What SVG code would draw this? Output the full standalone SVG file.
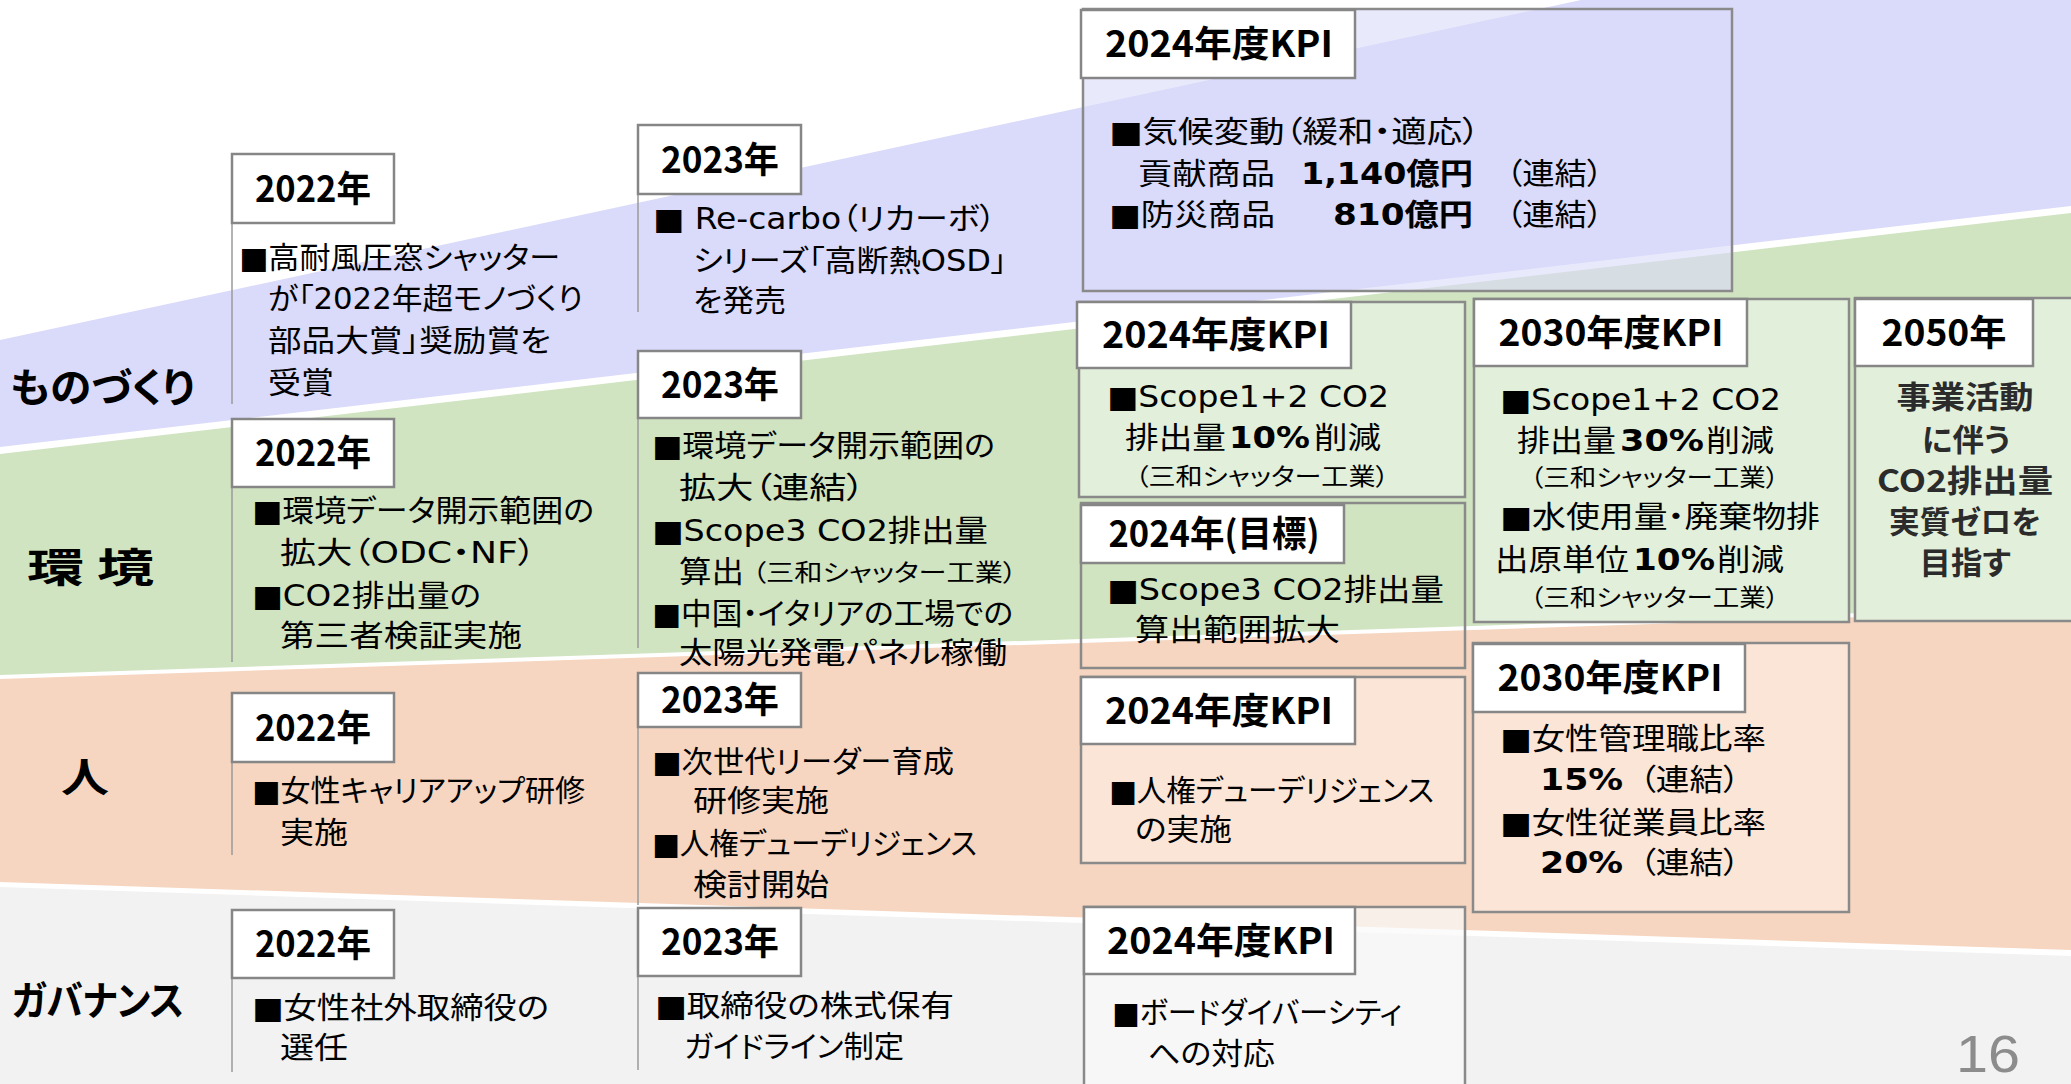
<svg xmlns="http://www.w3.org/2000/svg" width="2071" height="1084" viewBox="0 0 2071 1084">
<style>
.t{font-family:"DejaVu Sans","Noto Sans CJK JP",sans-serif;font-size:30px;fill:#000;font-feature-settings:"palt" 1}
.s{font-size:24px}
.b{font-weight:700}
.lb{font-family:"Noto Sans CJK JP",sans-serif;font-weight:700;font-size:36px;fill:#000;text-anchor:middle}
.cat{font-family:"Noto Sans CJK JP",sans-serif;font-weight:700;font-size:40px;fill:#000;font-feature-settings:"palt" 1}
.e{font-family:"Noto Sans CJK JP",sans-serif;font-weight:700;font-size:31px;fill:#2b2b2b;text-anchor:middle;font-feature-settings:"palt" 1}
.lbox{fill:#fff;stroke:#868686;stroke-width:2.5}
.obox{stroke:#8a8a8a;stroke-width:2.5}
.vl{stroke:#9a9a9a;stroke-width:1.5;fill:none}
</style>
<rect width="2071" height="1084" fill="#fff"/>
<g id="bands">
<polygon points="0,340 1581,0 2071,0 2071,206 0,447" fill="#dadafa"/>
<polygon points="0,454 2071,213 2071,606 0,675" fill="#d0e4c1"/>
<polygon points="0,679 2071,610 2071,950 0,882" fill="#f6d6c0"/>
<polygon points="0,887 2071,956 2071,1084 0,1084" fill="#f2f2f2"/>
</g>
<g id="categories">
<text class="cat" x="10" y="402" textLength="185" lengthAdjust="spacingAndGlyphs">ものづくり</text>
<text class="cat" x="27" y="582" textLength="127" lengthAdjust="spacingAndGlyphs">環 境</text>
<text class="cat" x="61" y="792" textLength="48" lengthAdjust="spacingAndGlyphs">人</text>
<text class="cat" x="12" y="1015" textLength="172" lengthAdjust="spacingAndGlyphs">ガバナンス</text>
</g>
<g id="connectors">
<line class="vl" x1="232" y1="223" x2="232" y2="404"/>
<line class="vl" x1="232" y1="487" x2="232" y2="662"/>
<line class="vl" x1="232" y1="762" x2="232" y2="855"/>
<line class="vl" x1="232" y1="978" x2="232" y2="1072"/>
<line class="vl" x1="638" y1="194" x2="638" y2="312"/>
<line class="vl" x1="638" y1="418" x2="638" y2="648"/>
<line class="vl" x1="638" y1="727" x2="638" y2="905"/>
<line class="vl" x1="638" y1="976" x2="638" y2="1070"/>
</g>
<g id="n2022-mono">
<rect class="lbox" x="232" y="154" width="162" height="69"/>
<text class="lb" x="313" y="202" textLength="116" lengthAdjust="spacingAndGlyphs">2022年</text>
<text class="t" x="239" y="268" textLength="321" lengthAdjust="spacingAndGlyphs">■高耐風圧窓シャッター</text>
<text class="t" x="268" y="309" textLength="315" lengthAdjust="spacingAndGlyphs">が「2022年超モノづくり</text>
<text class="t" x="268" y="351" textLength="283" lengthAdjust="spacingAndGlyphs">部品大賞」奨励賞を</text>
<text class="t" x="268" y="393" textLength="66" lengthAdjust="spacingAndGlyphs">受賞</text>
</g>
<g id="n2022-env">
<rect class="lbox" x="232" y="419" width="162" height="68"/>
<text class="lb" x="313" y="466" textLength="116" lengthAdjust="spacingAndGlyphs">2022年</text>
<text class="t" x="252" y="521" textLength="342" lengthAdjust="spacingAndGlyphs">■環境データ開示範囲の</text>
<text class="t" x="280" y="563" textLength="256" lengthAdjust="spacingAndGlyphs">拡大（ODC・NF）</text>
<text class="t" x="252" y="606" textLength="229" lengthAdjust="spacingAndGlyphs">■CO2排出量の</text>
<text class="t" x="280" y="646" textLength="242" lengthAdjust="spacingAndGlyphs">第三者検証実施</text>
</g>
<g id="n2022-hito">
<rect class="lbox" x="232" y="693" width="162" height="69"/>
<text class="lb" x="313" y="741" textLength="116" lengthAdjust="spacingAndGlyphs">2022年</text>
<text class="t" x="252" y="801" textLength="333" lengthAdjust="spacingAndGlyphs">■女性キャリアアップ研修</text>
<text class="t" x="280" y="843" textLength="68" lengthAdjust="spacingAndGlyphs">実施</text>
</g>
<g id="n2022-gov">
<rect class="lbox" x="232" y="910" width="162" height="68"/>
<text class="lb" x="313" y="957" textLength="116" lengthAdjust="spacingAndGlyphs">2022年</text>
<text class="t" x="252" y="1018" textLength="297" lengthAdjust="spacingAndGlyphs">■女性社外取締役の</text>
<text class="t" x="280" y="1058" textLength="68" lengthAdjust="spacingAndGlyphs">選任</text>
</g>
<g id="n2023-mono">
<rect class="lbox" x="638" y="125" width="163" height="69"/>
<text class="lb" x="720" y="173" textLength="118" lengthAdjust="spacingAndGlyphs">2023年</text>
<text class="t" x="653" y="229" textLength="343" lengthAdjust="spacingAndGlyphs">■ Re-carbo（リカーボ）</text>
<text class="t" x="693" y="271" textLength="314" lengthAdjust="spacingAndGlyphs">シリーズ「高断熱OSD」</text>
<text class="t" x="693" y="311" textLength="93" lengthAdjust="spacingAndGlyphs">を発売</text>
</g>
<g id="n2023-env">
<rect class="lbox" x="638" y="351" width="163" height="67"/>
<text class="lb" x="720" y="398" textLength="118" lengthAdjust="spacingAndGlyphs">2023年</text>
<text class="t" x="652" y="456" textLength="343" lengthAdjust="spacingAndGlyphs">■環境データ開示範囲の</text>
<text class="t" x="679" y="498" textLength="186" lengthAdjust="spacingAndGlyphs">拡大（連結）</text>
<text class="t" x="652" y="541" textLength="336" lengthAdjust="spacingAndGlyphs">■Scope3 CO2排出量</text>
<text class="t" x="679" y="582" textLength="65" lengthAdjust="spacingAndGlyphs">算出</text>
<text class="t s" x="752" y="581" textLength="265" lengthAdjust="spacingAndGlyphs">（三和シャッター工業）</text>
<text class="t" x="652" y="624" textLength="361" lengthAdjust="spacingAndGlyphs">■中国・イタリアの工場での</text>
<text class="t" x="679" y="663" textLength="328" lengthAdjust="spacingAndGlyphs">太陽光発電パネル稼働</text>
</g>
<g id="n2023-hito">
<rect class="lbox" x="638" y="673" width="163" height="54"/>
<text class="lb" x="720" y="713" textLength="118" lengthAdjust="spacingAndGlyphs">2023年</text>
<text class="t" x="652" y="772" textLength="302" lengthAdjust="spacingAndGlyphs">■次世代リーダー育成</text>
<text class="t" x="693" y="811" textLength="136" lengthAdjust="spacingAndGlyphs">研修実施</text>
<text class="t" x="652" y="854" textLength="325" lengthAdjust="spacingAndGlyphs">■人権デューデリジェンス</text>
<text class="t" x="693" y="895" textLength="136" lengthAdjust="spacingAndGlyphs">検討開始</text>
</g>
<g id="n2023-gov">
<rect class="lbox" x="638" y="908" width="163" height="68"/>
<text class="lb" x="720" y="955" textLength="118" lengthAdjust="spacingAndGlyphs">2023年</text>
<text class="t" x="655" y="1016" textLength="299" lengthAdjust="spacingAndGlyphs">■取締役の株式保有</text>
<text class="t" x="684" y="1057" textLength="220" lengthAdjust="spacingAndGlyphs">ガイドライン制定</text>
</g>
<g id="n2024-mono">
<rect class="obox" x="1083" y="9" width="649" height="282" fill="#dadafa" fill-opacity="0.6"/>
<rect class="lbox" x="1081" y="10" width="274" height="68"/>
<text class="lb" x="1219" y="57" textLength="228" lengthAdjust="spacingAndGlyphs">2024年度KPI</text>
<text class="t" x="1109" y="142" textLength="371" lengthAdjust="spacingAndGlyphs">■気候変動（緩和・適応）</text>
<text class="t" x="1138" y="184" textLength="137" lengthAdjust="spacingAndGlyphs">貢献商品</text>
<text class="t b" x="1301" y="184" textLength="172" lengthAdjust="spacingAndGlyphs">1,140億円</text>
<text class="t" x="1506" y="184" textLength="97" lengthAdjust="spacingAndGlyphs">（連結）</text>
<text class="t" x="1109" y="225" textLength="166" lengthAdjust="spacingAndGlyphs">■防災商品</text>
<text class="t b" x="1333" y="225" textLength="140" lengthAdjust="spacingAndGlyphs">810億円</text>
<text class="t" x="1506" y="225" textLength="97" lengthAdjust="spacingAndGlyphs">（連結）</text>
</g>
<g id="n2024-env">
<rect class="obox" x="1079" y="302" width="386" height="195" fill="#e2efda"/>
<rect class="lbox" x="1077" y="302" width="274" height="66"/>
<text class="lb" x="1216" y="348" textLength="228" lengthAdjust="spacingAndGlyphs">2024年度KPI</text>
<text class="t" x="1107" y="407" textLength="282" lengthAdjust="spacingAndGlyphs">■Scope1+2 CO2</text>
<text class="t" x="1125" y="448" textLength="101" lengthAdjust="spacingAndGlyphs">排出量</text>
<text class="t b" x="1229" y="448" textLength="81" lengthAdjust="spacingAndGlyphs">10%</text>
<text class="t" x="1314" y="448" textLength="67" lengthAdjust="spacingAndGlyphs">削減</text>
<text class="t s" x="1135" y="485" textLength="254" lengthAdjust="spacingAndGlyphs">（三和シャッター工業）</text>
</g>
<g id="n2024-target">
<rect class="obox" x="1081" y="503" width="384" height="165" fill="none"/>
<rect class="lbox" x="1081" y="505" width="263" height="58"/>
<text class="lb" x="1214" y="547" textLength="211" lengthAdjust="spacingAndGlyphs">2024年(目標)</text>
<text class="t" x="1107" y="600" textLength="337" lengthAdjust="spacingAndGlyphs">■Scope3 CO2排出量</text>
<text class="t" x="1135" y="640" textLength="205" lengthAdjust="spacingAndGlyphs">算出範囲拡大</text>
</g>
<g id="n2024-hito">
<rect class="obox" x="1081" y="677" width="384" height="186" fill="#fbe5d6"/>
<rect class="lbox" x="1081" y="677" width="274" height="67"/>
<text class="lb" x="1219" y="724" textLength="228" lengthAdjust="spacingAndGlyphs">2024年度KPI</text>
<text class="t" x="1109" y="801" textLength="325" lengthAdjust="spacingAndGlyphs">■人権デューデリジェンス</text>
<text class="t" x="1135" y="840" textLength="97" lengthAdjust="spacingAndGlyphs">の実施</text>
</g>
<g id="n2024-gov">
<rect class="obox" x="1084" y="907" width="381" height="190" fill="#f9f9f9" fill-opacity="0.7"/>
<rect class="lbox" x="1084" y="907" width="271" height="67"/>
<text class="lb" x="1221" y="954" textLength="228" lengthAdjust="spacingAndGlyphs">2024年度KPI</text>
<text class="t" x="1112" y="1023" textLength="290" lengthAdjust="spacingAndGlyphs">■ボードダイバーシティ</text>
<text class="t" x="1148" y="1064" textLength="127" lengthAdjust="spacingAndGlyphs">への対応</text>
</g>
<g id="n2030-env">
<rect class="obox" x="1474" y="299" width="375" height="323" fill="#e2efda"/>
<rect class="lbox" x="1474" y="299" width="273" height="67"/>
<text class="lb" x="1611" y="346" textLength="225" lengthAdjust="spacingAndGlyphs">2030年度KPI</text>
<text class="t" x="1500" y="410" textLength="281" lengthAdjust="spacingAndGlyphs">■Scope1+2 CO2</text>
<text class="t" x="1517" y="451" textLength="99" lengthAdjust="spacingAndGlyphs">排出量</text>
<text class="t b" x="1620" y="451" textLength="84" lengthAdjust="spacingAndGlyphs">30%</text>
<text class="t" x="1706" y="451" textLength="68" lengthAdjust="spacingAndGlyphs">削減</text>
<text class="t s" x="1530" y="486" textLength="249" lengthAdjust="spacingAndGlyphs">（三和シャッター工業）</text>
<text class="t" x="1500" y="527" textLength="320" lengthAdjust="spacingAndGlyphs">■水使用量・廃棄物排</text>
<text class="t" x="1495" y="570" textLength="134" lengthAdjust="spacingAndGlyphs">出原単位</text>
<text class="t b" x="1633" y="570" textLength="82" lengthAdjust="spacingAndGlyphs">10%</text>
<text class="t" x="1717" y="570" textLength="67" lengthAdjust="spacingAndGlyphs">削減</text>
<text class="t s" x="1530" y="606" textLength="249" lengthAdjust="spacingAndGlyphs">（三和シャッター工業）</text>
</g>
<g id="n2030-hito">
<rect class="obox" x="1473" y="643" width="376" height="269" fill="#fbe5d6"/>
<rect class="lbox" x="1473" y="644" width="272" height="68"/>
<text class="lb" x="1610" y="691" textLength="225" lengthAdjust="spacingAndGlyphs">2030年度KPI</text>
<text class="t" x="1500" y="749" textLength="266" lengthAdjust="spacingAndGlyphs">■女性管理職比率</text>
<text class="t b" x="1540" y="790" textLength="83" lengthAdjust="spacingAndGlyphs">15%</text>
<text class="t" x="1639" y="790" textLength="101" lengthAdjust="spacingAndGlyphs">（連結）</text>
<text class="t" x="1500" y="833" textLength="266" lengthAdjust="spacingAndGlyphs">■女性従業員比率</text>
<text class="t b" x="1540" y="873" textLength="83" lengthAdjust="spacingAndGlyphs">20%</text>
<text class="t" x="1639" y="873" textLength="101" lengthAdjust="spacingAndGlyphs">（連結）</text>
</g>
<g id="n2050">
<rect class="obox" x="1855" y="298" width="220" height="323" fill="#e2efda"/>
<rect class="lbox" x="1855" y="299" width="178" height="67"/>
<text class="lb" x="1944" y="346" textLength="125" lengthAdjust="spacingAndGlyphs">2050年</text>
<text class="e" x="1965" y="408" textLength="137" lengthAdjust="spacingAndGlyphs">事業活動</text>
<text class="e" x="1966" y="451" textLength="88" lengthAdjust="spacingAndGlyphs">に伴う</text>
<text class="e" x="1965" y="492" textLength="176" lengthAdjust="spacingAndGlyphs">CO2排出量</text>
<text class="e" x="1965" y="533" textLength="152" lengthAdjust="spacingAndGlyphs">実質ゼロを</text>
<text class="e" x="1965" y="574" textLength="91" lengthAdjust="spacingAndGlyphs">目指す</text>
</g>
<text x="1956" y="1072" font-family="Liberation Sans, sans-serif" font-size="52" fill="#8c8c8c" textLength="64" lengthAdjust="spacingAndGlyphs">16</text>
</svg>
